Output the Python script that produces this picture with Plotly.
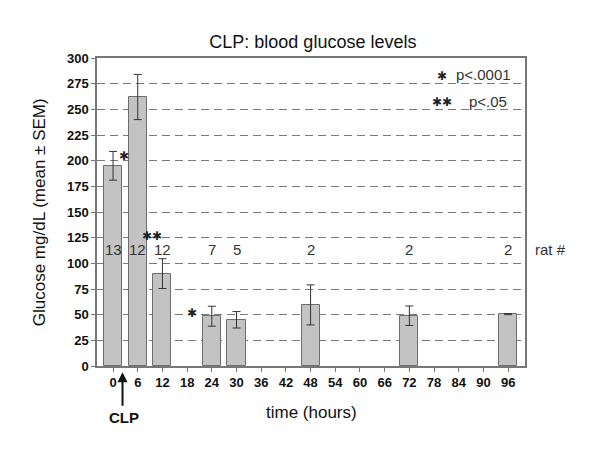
import plotly.graph_objects as go

hours = [0, 6, 12, 24, 30, 48, 72, 96]
glucose_mean = [195, 262, 90, 48.5, 45, 59.5, 49, 50.5]
glucose_sem = [14, 22, 14.5, 9.7, 8, 19.5, 9.5, 0.5]
rat_counts = ["13", "12", "12", "7", "5", "2", "2", "2"]
tick_hours = list(range(0, 97, 6))
y_ticks = list(range(0, 301, 25))

FONT = "Liberation Sans, Arial, sans-serif"

fig = go.Figure()
fig.add_trace(go.Bar(
    x=hours, y=glucose_mean, width=4.4,
    marker=dict(color="#c3c3c3", line=dict(color="#6e6e6e", width=1)),
    error_y=dict(type="data", array=glucose_sem, visible=True,
                 color="#333333", thickness=1, width=4),
    hoverinfo="x+y",
))

# rat counts
for h, n in zip(hours, rat_counts):
    fig.add_annotation(x=h, y=113, text=n, showarrow=False,
                       font=dict(family=FONT, size=15, color="#333333"))
fig.add_annotation(x=1.0, xref="paper", xanchor="left", xshift=8, y=113,
                   text="rat #", showarrow=False,
                   font=dict(family=FONT, size=15, color="#333333"))

# significance stars
star_font = dict(family="DejaVu Sans", size=12, color="#222222")
fig.add_annotation(x=2.6, y=205, text="✱", showarrow=False, font=star_font)
fig.add_annotation(x=9.4, y=127, text="✱✱", showarrow=False, font=star_font)
fig.add_annotation(x=19.3, y=52, text="✱", showarrow=False, font=star_font)

# key
fig.add_annotation(x=79.9, y=282, text="✱", showarrow=False, font=star_font)
fig.add_annotation(x=90.0, y=284, text="p<.0001", showarrow=False,
                   font=dict(family=FONT, size=15, color="#333333"))
fig.add_annotation(x=79.9, y=257, text="✱✱", showarrow=False, font=star_font)
fig.add_annotation(x=91.1, y=258, text="p<.05", showarrow=False,
                   font=dict(family=FONT, size=15, color="#333333"))

# CLP arrow (below the axis)
fig.add_annotation(x=2.3, y=-0.02, yref="paper", ax=0, ay=35,
                   text="", showarrow=True, arrowhead=2, arrowsize=1,
                   arrowwidth=2, arrowcolor="#111111")
fig.add_annotation(x=2.6, y=-0.166, yref="paper", yanchor="middle",
                   text="<b>CLP</b>", showarrow=False,
                   font=dict(family=FONT, size=15, color="#111111"))

fig.add_annotation(x=0.5, xref="paper", y=-0.152, yref="paper", yanchor="middle",
                   text="time (hours)", showarrow=False,
                   font=dict(family=FONT, size=17, color="#111111"))
fig.add_annotation(x=-0.135, xref="paper", y=0.5, yref="paper", textangle=-90,
                   xanchor="center", yanchor="middle",
                   text="Glucose mg/dL (mean ± SEM)", showarrow=False,
                   font=dict(family=FONT, size=17, color="#111111"))

fig.update_layout(
    width=592, height=441,
    margin=dict(l=89, r=75, t=50, b=83, autoexpand=False),
    paper_bgcolor="white", plot_bgcolor="white",
    showlegend=False,
    title=dict(text="CLP: blood glucose levels", x=0.515, xanchor="center",
               y=1 - 34 / 441, yanchor="middle",
               font=dict(family=FONT, size=18, color="#111111")),
    font=dict(family=FONT, color="#111111"),
    bargap=0,
)
fig.update_xaxes(
    range=[-3.9, 100.1], tickvals=tick_hours,
    ticktext=[f"<b>{t}</b>" for t in tick_hours],
    tickfont=dict(family=FONT, size=13, color="#111111"),
    ticks="outside", ticklen=4, tickcolor="#777777",
    showline=True, linecolor="#777777", linewidth=1.5, mirror=True,
    showgrid=False, zeroline=False, automargin=False,
)
fig.update_yaxes(
    range=[0, 300], tickvals=y_ticks,
    ticktext=[f"<b>{t}</b>" for t in y_ticks],
    tickfont=dict(family=FONT, size=13, color="#111111"),
    ticks="outside", ticklen=4, tickcolor="#777777",
    showline=True, linecolor="#777777", linewidth=1.5, mirror=True,
    showgrid=True, gridcolor="#7a7a7a", gridwidth=1.2, griddash="8px,5px",
    zeroline=False, automargin=False,
)
fig.write_html("out.html")
